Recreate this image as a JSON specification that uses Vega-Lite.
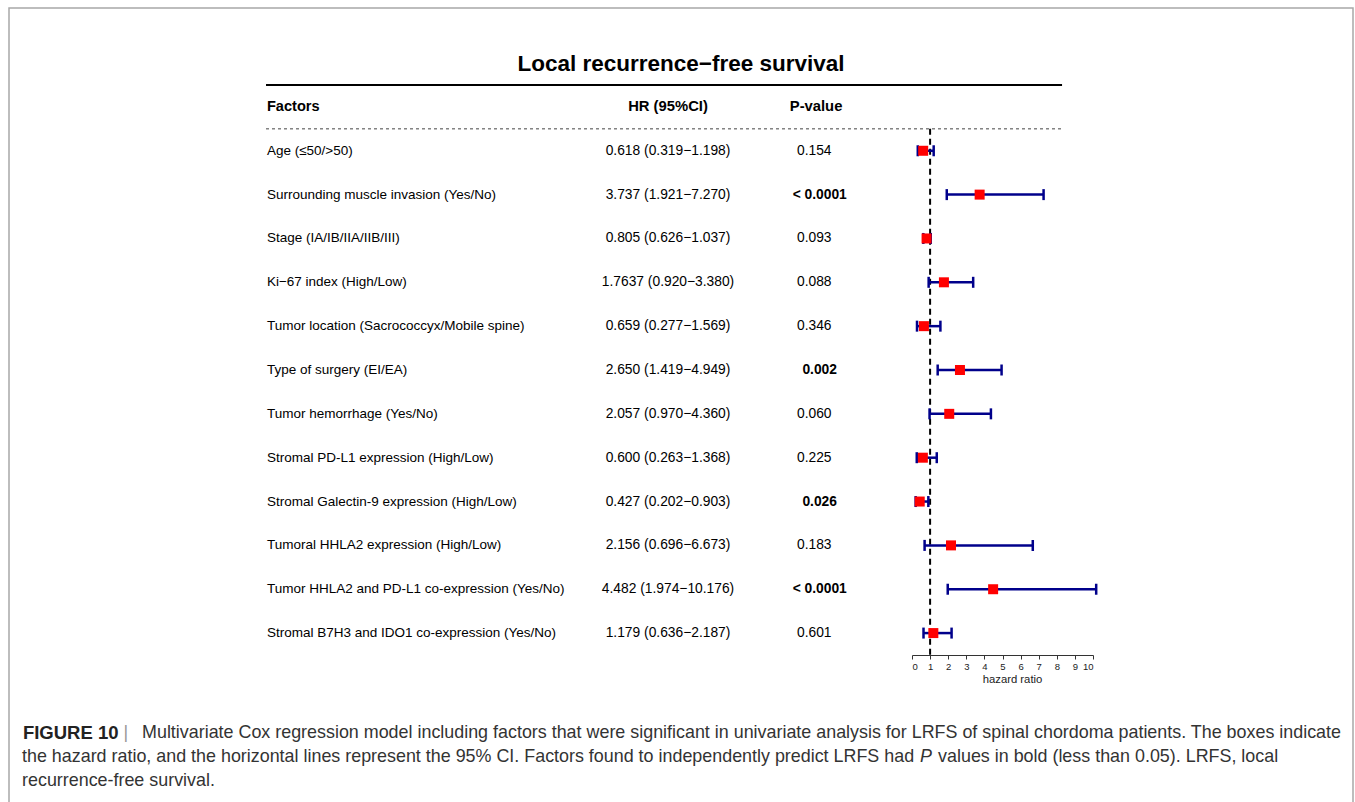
{
  "$schema": "https://vega.github.io/schema/vega-lite/v6.json",
  "width": 1344,
  "height": 794,
  "autosize": {"type": "none"},
  "padding": {"left": 9, "top": 8, "right": 2, "bottom": 0},
  "background": "white",
  "title": {"text": "Local recurrence−free survival", "font": "Liberation Sans", "fontSize": 22.5, "fontWeight": "bold", "color": "black", "anchor": "middle", "offset": -67},
  "config": {
    "view": {"stroke": "#a8a8a8", "strokeWidth": 1.5, "strokeDash": [2138, 1344, 794]},
    "font": "Liberation Sans",
    "axis": {"grid": false},
    "text": {"font": "Liberation Sans", "baseline": "middle", "color": "black"}
  },
  "datasets": {
    "rows": [
      {"factor": "Age (≤50/>50)", "hr": 0.618, "lo": 0.319, "hi": 1.198, "hr_ci": "0.618 (0.319−1.198)", "p": "0.154", "sig": false},
      {"factor": "Surrounding muscle invasion (Yes/No)", "hr": 3.737, "lo": 1.921, "hi": 7.27, "hr_ci": "3.737 (1.921−7.270)", "p": "< 0.0001", "sig": true},
      {"factor": "Stage (IA/IB/IIA/IIB/III)", "hr": 0.805, "lo": 0.626, "hi": 1.037, "hr_ci": "0.805 (0.626−1.037)", "p": "0.093", "sig": false},
      {"factor": "Ki−67 index (High/Low)", "hr": 1.7637, "lo": 0.92, "hi": 3.38, "hr_ci": "1.7637 (0.920−3.380)", "p": "0.088", "sig": false},
      {"factor": "Tumor location (Sacrococcyx/Mobile spine)", "hr": 0.659, "lo": 0.277, "hi": 1.569, "hr_ci": "0.659 (0.277−1.569)", "p": "0.346", "sig": false},
      {"factor": "Type of surgery (EI/EA)", "hr": 2.65, "lo": 1.419, "hi": 4.949, "hr_ci": "2.650 (1.419−4.949)", "p": "0.002", "sig": true},
      {"factor": "Tumor hemorrhage (Yes/No)", "hr": 2.057, "lo": 0.97, "hi": 4.36, "hr_ci": "2.057 (0.970−4.360)", "p": "0.060", "sig": false},
      {"factor": "Stromal PD-L1 expression (High/Low)", "hr": 0.6, "lo": 0.263, "hi": 1.368, "hr_ci": "0.600 (0.263−1.368)", "p": "0.225", "sig": false},
      {"factor": "Stromal Galectin-9 expression (High/Low)", "hr": 0.427, "lo": 0.202, "hi": 0.903, "hr_ci": "0.427 (0.202−0.903)", "p": "0.026", "sig": true},
      {"factor": "Tumoral HHLA2 expression (High/Low)", "hr": 2.156, "lo": 0.696, "hi": 6.673, "hr_ci": "2.156 (0.696−6.673)", "p": "0.183", "sig": false},
      {"factor": "Tumor HHLA2 and PD-L1 co-expression (Yes/No)", "hr": 4.482, "lo": 1.974, "hi": 10.176, "hr_ci": "4.482 (1.974−10.176)", "p": "< 0.0001", "sig": true},
      {"factor": "Stromal B7H3 and IDO1 co-expression (Yes/No)", "hr": 1.179, "lo": 0.636, "hi": 2.187, "hr_ci": "1.179 (0.636−2.187)", "p": "0.601", "sig": false}
    ],
    "header": [
      {"factor": "Factors", "hr_ci": "HR (95%CI)", "p": "P-value"}
    ],
    "caption": [
      {"line": 1, "seg": "label", "text": "FIGURE 10"},
      {"line": 1, "seg": "sep", "text": "|"},
      {"line": 1, "seg": "first", "text": "Multivariate Cox regression model including factors that were significant in univariate analysis for LRFS of spinal chordoma patients. The boxes indicate"},
      {"line": 2, "seg": "body", "text": "the hazard ratio, and the horizontal lines represent the 95% CI. Factors found to independently predict LRFS had"},
      {"line": 2, "seg": "italic", "text": "P"},
      {"line": 2, "seg": "rest", "text": "values in bold (less than 0.05). LRFS, local"},
      {"line": 3, "seg": "body", "text": "recurrence-free survival."}
    ]
  },
  "layer": [
    {
      "layer": [
        {
          "data": {"values": [{}]},
          "mark": {"type": "rule", "color": "black", "strokeWidth": 2},
          "encoding": {
            "x": {"datum": -35.69, "type": "quantitative", "scale": {"domain": [0, 10], "range": [903, 1084], "nice": false}, "axis": {"values": [0, 1, 2, 3, 4, 5, 6, 7, 8, 9, 10], "format": "d", "grid": false, "offset": -147, "domainColor": "#333333", "tickColor": "#333333", "labelColor": "#222222", "labelFontSize": 9.5, "labelFont": "Liberation Sans", "tickSize": 4, "labelPadding": 2, "title": "hazard ratio", "titleFont": "Liberation Sans", "titleFontSize": 11.3, "titleFontWeight": "normal", "titleColor": "#222222", "titlePadding": 3, "titleX": 1003}},
            "x2": {"datum": 8.29},
            "y": {"datum": "Factors", "type": "nominal", "bandPosition": 0, "scale": {"type": "band", "domain": ["Factors", "Age (≤50/>50)", "Surrounding muscle invasion (Yes/No)", "Stage (IA/IB/IIA/IIB/III)", "Ki−67 index (High/Low)", "Tumor location (Sacrococcyx/Mobile spine)", "Type of surgery (EI/EA)", "Tumor hemorrhage (Yes/No)", "Stromal PD-L1 expression (High/Low)", "Stromal Galectin-9 expression (High/Low)", "Tumoral HHLA2 expression (High/Low)", "Tumor HHLA2 and PD-L1 co-expression (Yes/No)", "Stromal B7H3 and IDO1 co-expression (Yes/No)"], "range": [77, 647], "paddingInner": 0, "paddingOuter": 0}, "axis": null}
          }
        },
        {
          "data": {"values": [{}]},
          "mark": {"type": "rule", "color": "#444444", "strokeWidth": 1, "strokeDash": [3, 3]},
          "encoding": {
            "x": {"datum": -35.69, "type": "quantitative", "scale": {"domain": [0, 10], "range": [903, 1084], "nice": false}},
            "x2": {"datum": 8.29},
            "y": {"datum": "Factors", "type": "nominal", "bandPosition": 1, "axis": null}
          }
        },
        {
          "data": {"values": [{}]},
          "mark": {"type": "rule", "color": "black", "strokeWidth": 2, "strokeDash": [6, 4]},
          "encoding": {
            "x": {"datum": 1, "type": "quantitative", "scale": {"domain": [0, 10], "range": [903, 1084], "nice": false}},
            "y": {"datum": "Factors", "type": "nominal", "bandPosition": 1, "axis": null},
            "y2": {"datum": "Stromal B7H3 and IDO1 co-expression (Yes/No)", "bandPosition": 1}
          }
        },
        {
          "data": {"name": "header"},
          "mark": {"type": "text", "align": "left", "fontWeight": "bold", "fontSize": 14.6},
          "encoding": {
            "x": {"datum": -35.64, "type": "quantitative", "scale": {"domain": [0, 10], "range": [903, 1084], "nice": false}},
            "y": {"field": "factor", "type": "nominal", "axis": null},
            "text": {"field": "factor"}
          }
        },
        {
          "data": {"name": "header"},
          "mark": {"type": "text", "align": "center", "fontWeight": "bold", "fontSize": 14.8},
          "encoding": {
            "x": {"datum": -13.48, "type": "quantitative", "scale": {"domain": [0, 10], "range": [903, 1084], "nice": false}},
            "y": {"field": "factor", "type": "nominal", "axis": null},
            "text": {"field": "hr_ci"}
          }
        },
        {
          "data": {"name": "header"},
          "mark": {"type": "text", "align": "center", "fontWeight": "bold", "fontSize": 14.8},
          "encoding": {
            "x": {"datum": -5.3, "type": "quantitative", "scale": {"domain": [0, 10], "range": [903, 1084], "nice": false}},
            "y": {"field": "factor", "type": "nominal", "axis": null},
            "text": {"field": "p"}
          }
        },
        {
          "data": {"name": "rows"},
          "mark": {"type": "text", "align": "left", "fontSize": 13.5},
          "encoding": {
            "x": {"datum": -35.64, "type": "quantitative", "scale": {"domain": [0, 10], "range": [903, 1084], "nice": false}},
            "y": {"field": "factor", "type": "nominal", "axis": null},
            "text": {"field": "factor"}
          }
        },
        {
          "data": {"name": "rows"},
          "mark": {"type": "text", "align": "center", "fontSize": 13.8},
          "encoding": {
            "x": {"datum": -13.48, "type": "quantitative", "scale": {"domain": [0, 10], "range": [903, 1084], "nice": false}},
            "y": {"field": "factor", "type": "nominal", "axis": null},
            "text": {"field": "hr_ci"}
          }
        },
        {
          "data": {"name": "rows"},
          "transform": [{"filter": {"field": "sig", "equal": false}}],
          "mark": {"type": "text", "align": "center", "fontSize": 13.8},
          "encoding": {
            "x": {"datum": -5.4, "type": "quantitative", "scale": {"domain": [0, 10], "range": [903, 1084], "nice": false}},
            "y": {"field": "factor", "type": "nominal", "axis": null},
            "text": {"field": "p"}
          }
        },
        {
          "data": {"name": "rows"},
          "transform": [{"filter": {"field": "sig", "equal": true}}],
          "mark": {"type": "text", "align": "center", "fontSize": 13.8, "fontWeight": "bold"},
          "encoding": {
            "x": {"datum": -5.1, "type": "quantitative", "scale": {"domain": [0, 10], "range": [903, 1084], "nice": false}},
            "y": {"field": "factor", "type": "nominal", "axis": null},
            "text": {"field": "p"}
          }
        },
        {
          "data": {"name": "rows"},
          "mark": {"type": "rule", "color": "#00008B", "strokeWidth": 2.5},
          "encoding": {
            "x": {"field": "lo", "type": "quantitative", "scale": {"domain": [0, 10], "range": [903, 1084], "nice": false}},
            "x2": {"field": "hi"},
            "y": {"field": "factor", "type": "nominal", "axis": null}
          }
        },
        {
          "data": {"name": "rows"},
          "mark": {"type": "tick", "color": "#00008B", "size": 11, "thickness": 2.5, "orient": "vertical", "opacity": 1},
          "encoding": {
            "x": {"field": "lo", "type": "quantitative", "scale": {"domain": [0, 10], "range": [903, 1084], "nice": false}},
            "y": {"field": "factor", "type": "nominal", "axis": null}
          }
        },
        {
          "data": {"name": "rows"},
          "mark": {"type": "tick", "color": "#00008B", "size": 11, "thickness": 2.5, "orient": "vertical", "opacity": 1},
          "encoding": {
            "x": {"field": "hi", "type": "quantitative", "scale": {"domain": [0, 10], "range": [903, 1084], "nice": false}},
            "y": {"field": "factor", "type": "nominal", "axis": null}
          }
        },
        {
          "data": {"name": "rows"},
          "mark": {"type": "square", "color": "#FF0000", "size": 100, "filled": true, "opacity": 1},
          "encoding": {
            "x": {"field": "hr", "type": "quantitative", "scale": {"domain": [0, 10], "range": [903, 1084], "nice": false}},
            "y": {"field": "factor", "type": "nominal", "axis": null}
          }
        }
      ]
    },
    {
      "data": {"name": "caption"},
      "layer": [
        {
          "transform": [{"filter": {"field": "seg", "equal": "label"}}],
          "mark": {"type": "text", "align": "left", "fontSize": 18.5, "fontWeight": "bold", "color": "#222222"},
          "encoding": {
            "x": {"datum": -49.12, "type": "quantitative", "scale": {"domain": [0, 10], "range": [903, 1084], "nice": false}},
            "y": {"field": "line", "type": "ordinal", "scale": {"type": "point", "domain": [1, 2, 3], "range": [725, 773], "padding": 0}, "axis": null},
            "text": {"field": "text"}
          }
        },
        {
          "transform": [{"filter": {"field": "seg", "equal": "sep"}}],
          "mark": {"type": "text", "align": "center", "fontSize": 17.9, "color": "#999999"},
          "encoding": {
            "x": {"datum": -43.43, "type": "quantitative", "scale": {"domain": [0, 10], "range": [903, 1084], "nice": false}},
            "y": {"field": "line", "type": "ordinal", "axis": null},
            "text": {"field": "text"}
          }
        },
        {
          "transform": [{"filter": {"field": "seg", "equal": "first"}}],
          "mark": {"type": "text", "align": "left", "fontSize": 17.9, "color": "#333333"},
          "encoding": {
            "x": {"datum": -42.54, "type": "quantitative", "scale": {"domain": [0, 10], "range": [903, 1084], "nice": false}},
            "y": {"field": "line", "type": "ordinal", "axis": null},
            "text": {"field": "text"}
          }
        },
        {
          "transform": [{"filter": {"field": "seg", "equal": "body"}}],
          "mark": {"type": "text", "align": "left", "fontSize": 17.9, "color": "#333333"},
          "encoding": {
            "x": {"datum": -49.17, "type": "quantitative", "scale": {"domain": [0, 10], "range": [903, 1084], "nice": false}},
            "y": {"field": "line", "type": "ordinal", "axis": null},
            "text": {"field": "text"}
          }
        },
        {
          "transform": [{"filter": {"field": "seg", "equal": "italic"}}],
          "mark": {"type": "text", "align": "center", "fontSize": 17.9, "fontStyle": "italic", "color": "#333333"},
          "encoding": {
            "x": {"datum": 0.77, "type": "quantitative", "scale": {"domain": [0, 10], "range": [903, 1084], "nice": false}},
            "y": {"field": "line", "type": "ordinal", "axis": null},
            "text": {"field": "text"}
          }
        },
        {
          "transform": [{"filter": {"field": "seg", "equal": "rest"}}],
          "mark": {"type": "text", "align": "left", "fontSize": 17.9, "color": "#333333"},
          "encoding": {
            "x": {"datum": 1.44, "type": "quantitative", "scale": {"domain": [0, 10], "range": [903, 1084], "nice": false}},
            "y": {"field": "line", "type": "ordinal", "axis": null},
            "text": {"field": "text"}
          }
        }
      ]
    }
  ],
  "resolve": {"scale": {"y": "independent"}}
}
